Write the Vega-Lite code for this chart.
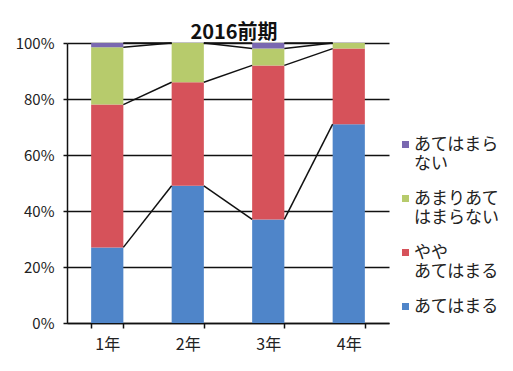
{
  "$schema": "https://vega.github.io/schema/vega-lite/v6.json",
  "width": 322,
  "height": 280,
  "padding": {"left": 15, "top": 23, "right": 5, "bottom": 5},
  "background": "white",
  "title": {"text": "2016前期", "fontSize": 20, "font": "Noto Sans CJK JP", "fontWeight": "bold", "color": "#111", "offset": -7, "dx": 6},
  "config": {
    "font": "Noto Sans CJK JP",
    "view": {"stroke": null},
    "axis": {"labelFont": "Noto Sans CJK JP", "labelColor": "#222", "labelFontSize": 15, "domainColor": "#111", "tickColor": "#111", "gridColor": "#111", "domainWidth": 1.5, "tickWidth": 1.5, "gridWidth": 1.5, "gridOpacity": 1}
  },
  "datasets": {
    "bars": [
      {"grade": "1年", "cat": "あてはまる", "k": 1, "v": 27},
      {"grade": "1年", "cat": "ややあてはまる", "k": 2, "v": 51},
      {"grade": "1年", "cat": "あまりあてはまらない", "k": 3, "v": 20.5},
      {"grade": "1年", "cat": "あてはまらない", "k": 4, "v": 1.5},
      {"grade": "2年", "cat": "あてはまる", "k": 1, "v": 49},
      {"grade": "2年", "cat": "ややあてはまる", "k": 2, "v": 37},
      {"grade": "2年", "cat": "あまりあてはまらない", "k": 3, "v": 14},
      {"grade": "2年", "cat": "あてはまらない", "k": 4, "v": 0},
      {"grade": "3年", "cat": "あてはまる", "k": 1, "v": 37},
      {"grade": "3年", "cat": "ややあてはまる", "k": 2, "v": 55},
      {"grade": "3年", "cat": "あまりあてはまらない", "k": 3, "v": 6},
      {"grade": "3年", "cat": "あてはまらない", "k": 4, "v": 2},
      {"grade": "4年", "cat": "あてはまる", "k": 1, "v": 71},
      {"grade": "4年", "cat": "ややあてはまる", "k": 2, "v": 27},
      {"grade": "4年", "cat": "あまりあてはまらない", "k": 3, "v": 2},
      {"grade": "4年", "cat": "あてはまらない", "k": 4, "v": 0}
    ],
    "lines": [
      {"from": "1年", "to": "2年", "a": 27, "b": 49},
      {"from": "2年", "to": "3年", "a": 49, "b": 37},
      {"from": "3年", "to": "4年", "a": 37, "b": 71},
      {"from": "1年", "to": "2年", "a": 78, "b": 86},
      {"from": "2年", "to": "3年", "a": 86, "b": 92},
      {"from": "3年", "to": "4年", "a": 92, "b": 98},
      {"from": "1年", "to": "2年", "a": 98.5, "b": 100},
      {"from": "2年", "to": "3年", "a": 100, "b": 98},
      {"from": "3年", "to": "4年", "a": 98, "b": 100},
      {"from": "1年", "to": "2年", "a": 100, "b": 100},
      {"from": "2年", "to": "3年", "a": 100, "b": 100},
      {"from": "3年", "to": "4年", "a": 100, "b": 100}
    ]
  },
  "layer": [
    {
      "data": {"name": "bars"},
      "mark": {"type": "bar"},
      "encoding": {
        "x": {"field": "grade", "type": "nominal", "sort": ["1年", "2年", "3年", "4年"],
          "scale": {"paddingInner": 0.6, "paddingOuter": 0.3},
          "axis": {"title": null, "labelAngle": 0, "tickBand": "extent", "tickSize": 5, "labelPadding": 8, "labelFontSize": 16, "grid": false}},
        "y": {"field": "v", "type": "quantitative", "stack": "zero",
          "scale": {"domain": [0, 100], "nice": false},
          "axis": {"title": null, "values": [0, 20, 40, 60, 80, 100], "labelExpr": "datum.value + '%'", "tickSize": 4, "labelPadding": 9, "grid": true}},
        "order": {"field": "k", "type": "quantitative"},
        "color": {"field": "cat", "type": "nominal",
          "scale": {"domain": ["あてはまらない", "あまりあてはまらない", "ややあてはまる", "あてはまる"],
                    "range": ["#7A68B0", "#B7CB6C", "#D6525A", "#4F85C9"]},
          "legend": {"title": null, "orient": "none", "legendX": 330, "legendY": 93, "symbolType": "square", "symbolSize": 49, "symbolStrokeWidth": 0,
            "labelFontSize": 17, "labelColor": "#222", "labelFont": "Noto Sans CJK JP", "rowPadding": 17, "labelOffset": 0,
            "labelExpr": "datum.label == 'あてはまらない' ? ['あてはまら', 'ない'] : datum.label == 'あまりあてはまらない' ? ['あまりあて', 'はまらない'] : datum.label == 'ややあてはまる' ? ['やや', 'あてはまる'] : datum.label"}}
      }
    },
    {
      "data": {"name": "lines"},
      "mark": {"type": "rule", "color": "#111", "strokeWidth": 1.5},
      "encoding": {
        "x": {"field": "from", "type": "nominal", "sort": ["1年", "2年", "3年", "4年"], "bandPosition": 1},
        "x2": {"field": "to", "bandPosition": 0},
        "y": {"field": "a", "type": "quantitative"},
        "y2": {"field": "b"}
      }
    }
  ]
}
